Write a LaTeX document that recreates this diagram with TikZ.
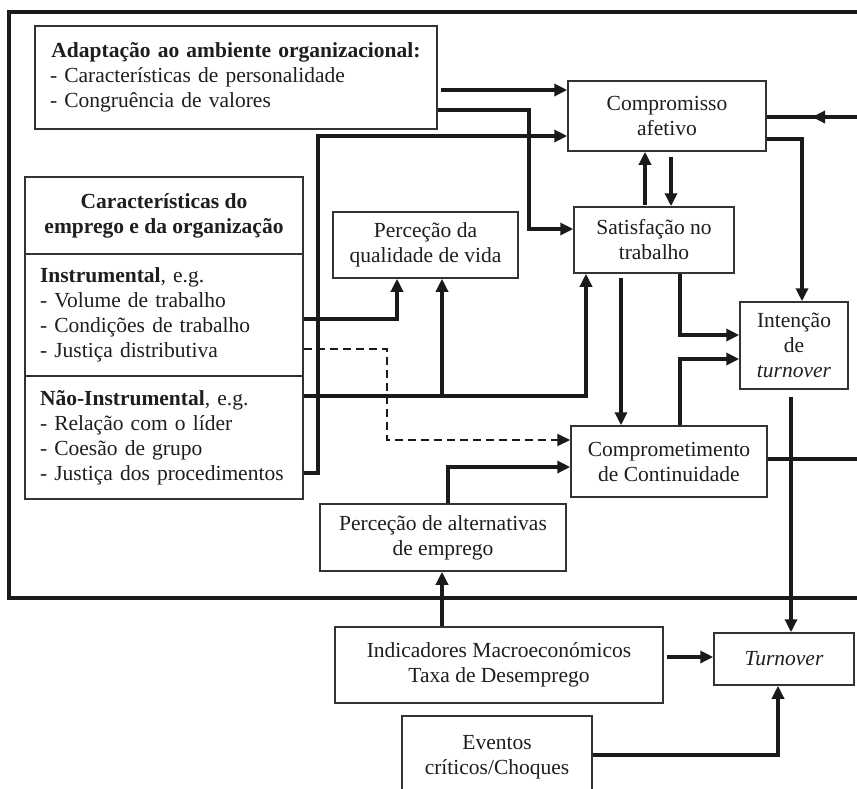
\documentclass[tikz,border=0pt]{standalone}
\usepackage{fontspec}
\setmainfont{Liberation Serif}
\usetikzlibrary{arrows.meta}
\definecolor{linec}{HTML}{1A1A1A}
\definecolor{boxc}{HTML}{333333}
\definecolor{txt}{HTML}{1E1E1E}
\begin{document}
\begin{tikzpicture}[x=1pt,y=-1pt,
  box/.style={draw=boxc, line width=1.5pt, inner sep=0pt, text=txt,
    font=\fontsize{21.5}{25}\selectfont},
  conn/.style={line width=3.3pt, draw=linec},
  arr/.style={conn, -{Triangle[length=13pt,width=12pt]}},
  darr/.style={line width=1.8pt, draw=linec, dash pattern=on 8pt off 5pt,
    -{Triangle[length=13pt,width=12pt]}},
  frameline/.style={line width=4pt, draw=linec}]
\useasboundingbox (0,0) rectangle (857,788);
\fill[white] (0,0) rectangle (857,788);

% boxes
\node[box, minimum width=402pt, minimum height=103pt, text width=372pt, align=left] (adapt) at (236,77.5)
  {\makebox[372pt]{\textbf{Adaptação ao ambiente organizacional:}}\\- Características de personalidade\\- Congruência de valores};
\node[box, minimum width=198pt, minimum height=70pt, align=center] (comp) at (667,116) {Compromisso\\afetivo};
\node[box, minimum width=160pt, minimum height=66pt, align=center] (sat) at (654,240) {Satisfação no\\trabalho};
\node[box, minimum width=185pt, minimum height=66pt, align=center] (qual) at (425.5,245) {Perceção da\\qualidade de vida};
\node[box, minimum width=278pt, minimum height=77pt, align=center] (ctitle) at (164,215.5)
  {\textbf{Características do}\\\textbf{emprego e da organização}};
\node[box, minimum width=278pt, minimum height=122pt, text width=248pt, align=left] (cinst) at (164,315)
  {\textbf{Instrumental}, e.g.\\- Volume de trabalho\\- Condições de trabalho\\- Justiça distributiva};
\node[box, minimum width=278pt, minimum height=123pt, text width=248pt, align=left] (cnon) at (164,437.5)
  {\textbf{Não-Instrumental}, e.g.\\- Relação com o líder\\- Coesão de grupo\\- Justiça dos procedimentos};
\node[box, minimum width=108pt, minimum height=87pt, align=center] (intent) at (794,345.5) {Intenção\\de\\\textit{turnover}};
\node[box, minimum width=196pt, minimum height=71pt, align=center] (cont) at (669,461.5) {Comprometimento\\de Continuidade};
\node[box, minimum width=246pt, minimum height=67pt, align=center] (alt) at (443,537.5) {Perceção de alternativas\\de emprego};
\node[box, minimum width=328pt, minimum height=76pt, align=center] (macro) at (499,665) {Indicadores Macroeconómicos\\Taxa de Desemprego};
\node[box, minimum width=140pt, minimum height=52pt] (turn) at (784,659) {\textit{Turnover}};
\node[box, minimum width=190pt, minimum height=82pt, align=center] (event) at (497,757) {Eventos\\críticos/Choques};

% frame
\draw[frameline] (857,12) -- (9,12) -- (9,598) -- (857,598);

% connectors
\draw[arr, shorten <=3pt] (adapt.east |- 0,90) -- (comp.west |- 0,90);
\draw[arr] (adapt.east |- 0,110) -| (529,229) -- (sat.west |- 0,229);
\draw[arr] (cnon.east |- 0,473) -| (318,136) -- (comp.west |- 0,136);
\draw[arr] (cinst.east |- 0,319) -| (qual.south -| 397,0);
\draw[darr] (cinst.east |- 0,349) -| (387,440) -- (cont.west |- 0,440);
\draw[arr] (cnon.east |- 0,396) -| (sat.south -| 586,0);
\coordinate (j1) at (442,396);
\draw[arr] (j1) -- (qual.south -| 442,0);
\draw[arr, shorten <=1pt] (sat.north -| 645,0) -- (comp.south -| 645,0);
\draw[arr, shorten <=5pt] (comp.south -| 671,0) -- (sat.north -| 671,0);
\coordinate (redge) at (857,117);
\coordinate (rmid) at (812,117);
\draw[conn] (redge) -- (comp.east |- 0,117);
\draw[arr] (redge) -- (rmid);
\draw[arr] (comp.east |- 0,139) -| (intent.north -| 802,0);
\draw[arr, shorten <=4pt] (sat.south -| 621,0) -- (cont.north -| 621,0);
\draw[arr] (sat.south -| 680,0) |- (intent.west |- 0,335);
\draw[arr] (cont.north -| 680,0) |- (intent.west |- 0,359);
\coordinate (redge2) at (857,459);
\draw[conn] (cont.east |- 0,459) -- (redge2);
\draw[arr, shorten <=7pt] (intent.south -| 791,0) -- (turn.north -| 791,0);
\draw[arr] (alt.north -| 448,0) |- (cont.west |- 0,467);
\draw[arr] (macro.north -| 442,0) -- (alt.south -| 442,0);
\draw[arr, shorten <=3pt] (macro.east |- 0,657) -- (turn.west |- 0,657);
\draw[arr] (event.east |- 0,755) -| (turn.south -| 778,0);
\end{tikzpicture}
\end{document}
